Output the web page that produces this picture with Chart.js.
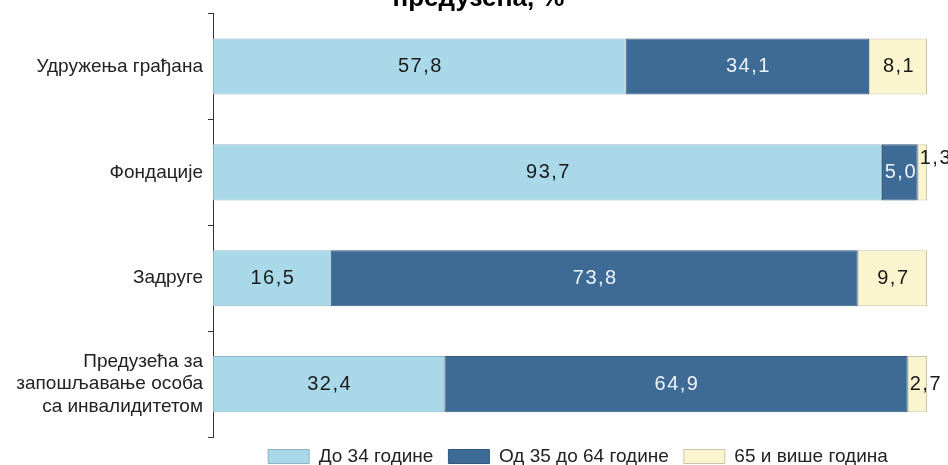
<!DOCTYPE html>
<html>
<head>
<meta charset="utf-8">
<script src="https://cdn.jsdelivr.net/npm/chart.js@4"></script>
<style>
  html, body { margin: 0; padding: 0; background: #fff; overflow: hidden; }
  .wrap { position: absolute; left: 0; top: -15px; width: 948px; height: 496px; }
</style>
</head>
<body>
<div class="wrap"><canvas id="myChart" width="948" height="496"></canvas></div>
<script>
// Data
var categories = [
  "Удружења грађана",
  "Фондације",
  "Задруге",
  ["Предузећа за", "запошљавање особа", "са инвалидитетом"],
];
var seriesNames = ["До 34 године", "Од 35 до 64 године", "65 и више година"];
var young = [57.8, 93.7, 16.5, 32.4];
var middle = [34.1, 5.0, 73.8, 64.9];
var old = [8.1, 1.3, 9.7, 2.7];

var barColors = ["#a9d8e8", "#3e6b96", "#faf5cf"];
var edgeColors = ["#8fb4c2", "#34597d", "#c9c5a6"];
var labelColors = ["#1a1a1a", "#eef3f8", "#1a1a1a"];
var fontName = "'Liberation Sans', Arial, sans-serif";

// Value labels drawn on the bars
const valueLabels = {
  id: "valueLabels",
  afterDatasetsDraw(chart) {
    const ctx = chart.ctx;
    ctx.save();
    ctx.font = "20px " + fontName;
    ctx.letterSpacing = "1.5px";
    ctx.textBaseline = "middle";
    chart.data.datasets.forEach((ds, i) => {
      const meta = chart.getDatasetMeta(i);
      meta.data.forEach((bar, j) => {
        const v = ds.data[j];
        const txt = v.toFixed(1).replace(".", ",");
        if (v < 2) {
          // too thin, put it above and to the right
          ctx.fillStyle = "#1a1a1a";
          ctx.textAlign = "left";
          ctx.fillText(txt, bar.base + 2, bar.y - 14);
        } else if (v < 3) {
          ctx.fillStyle = "#1a1a1a";
          ctx.textAlign = "left";
          ctx.fillText(txt, bar.base + 2, bar.y);
        } else {
          ctx.fillStyle = labelColors[i];
          ctx.textAlign = "center";
          ctx.fillText(txt, (bar.x + bar.base) / 2 + 1, bar.y);
        }
      });
    });
    ctx.restore();
  },
};

// small nudges for title and legend
const blockShift = {
  id: "blockShift",
  afterLayout(chart) {
    chart.legend.left += 8;
    chart.legend.right += 8;
    chart.legend.top -= 5;
    chart.legend.bottom -= 5;
    chart.titleBlock.left += 15;
    chart.titleBlock.right += 15;
  },
};

var seriesData = [young, middle, old];

new Chart("myChart", {
  type: "bar",
  data: {
    labels: categories,
    datasets: seriesNames.map((name, i) => ({
      label: name,
      data: seriesData[i],
      backgroundColor: barColors[i],
      borderColor: edgeColors[i],
      borderWidth: 1,
      borderSkipped: false,
      categoryPercentage: 1,
      barPercentage: 0.53,
    })),
  },
  options: {
    indexAxis: "y",
    responsive: false,
    animation: false,
    layout: { padding: { left: 0, right: 21, top: 0, bottom: 0 } },
    scales: {
      x: { stacked: true, min: 0, max: 100, display: false },
      y: {
        stacked: true,
        afterFit: (scale) => {
          scale.width = 213;
          scale.paddingTop = 0;
          scale.paddingBottom = 0;
        },
        border: { display: true, color: "#333", width: 1 },
        grid: { offset: true, drawOnChartArea: false, tickLength: 5, color: "#333" },
        ticks: {
          padding: 5,
          color: "#222",
          font: { family: fontName, size: 19, lineHeight: 1.2 },
        },
      },
    },
    plugins: {
      title: {
        display: true,
        text: "предузећа, %",
        color: "#000",
        font: { family: fontName, size: 26, weight: "bold", lineHeight: 1.1 },
        padding: { top: 0, bottom: 0 },
      },
      legend: {
        position: "bottom",
        fullSize: false,
        labels: {
          boxWidth: 41,
          boxHeight: 14,
          padding: 15,
          color: "#222",
          font: { family: fontName, size: 19 },
        },
      },
      tooltip: { enabled: false },
    },
  },
  plugins: [valueLabels, blockShift],
});
</script>
</body>
</html>
